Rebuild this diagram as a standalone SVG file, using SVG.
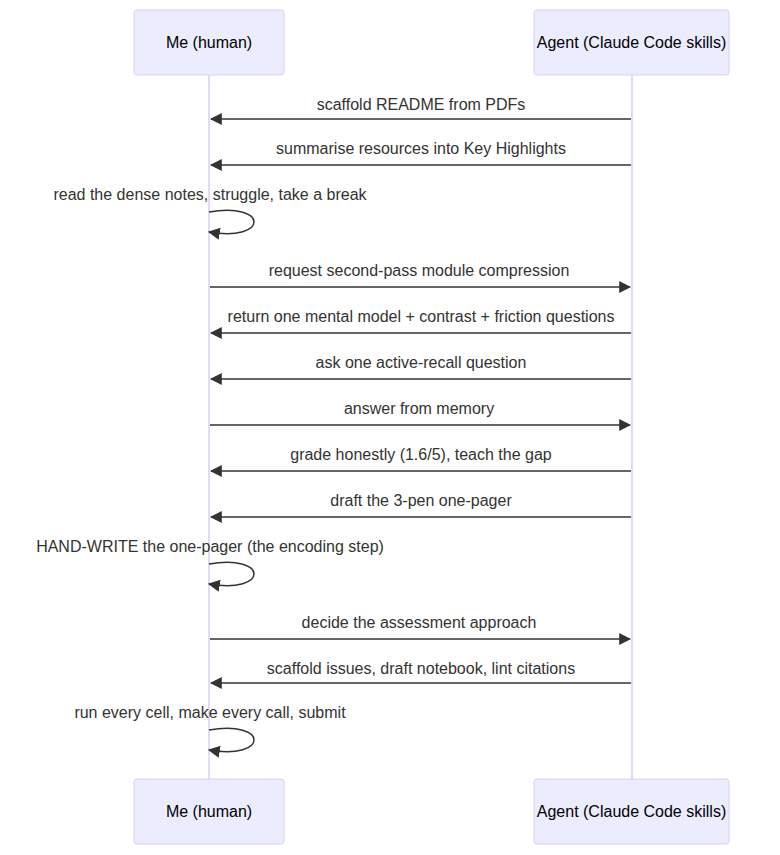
<svg xmlns="http://www.w3.org/2000/svg" width="780" height="855" viewBox="0 0 780 855">
<style>
.actor{fill:#ECECFF;stroke:#DACEF3;stroke-width:1}
.atext{font-family:"Liberation Sans",Arial,sans-serif;font-size:16px;fill:#000;text-anchor:middle}
.life{stroke:#DACEF3;stroke-width:1.5}
.msg{stroke:#333;stroke-width:1.5;fill:none}
.mtext{font-family:"Liberation Sans",Arial,sans-serif;font-size:16px;fill:#333;text-anchor:middle}
</style>
<defs>
<marker id="ah" viewBox="0 0 10 10" refX="9" refY="5" markerWidth="12" markerHeight="12" markerUnits="userSpaceOnUse" orient="auto">
<path d="M 0 0 L 10 5 L 0 10 z" fill="#333"/>
</marker>
</defs>
<rect width="780" height="855" fill="#fff"/>
<g id="lifelines">
<line class="life" x1="209" y1="75" x2="209" y2="779"/>
<line class="life" x1="632" y1="75" x2="632" y2="779"/>
</g>
<g id="me-top"><rect class="actor" x="134" y="10" width="150" height="65" rx="3"/><text class="atext" x="209" y="48">Me (human)</text></g>
<g id="agent-top"><rect class="actor" x="534" y="10" width="195" height="65" rx="3"/><text class="atext" x="631.5" y="48">Agent (Claude Code skills)</text></g>
<g id="me-bottom"><rect class="actor" x="134" y="779" width="150" height="65" rx="3"/><text class="atext" x="209" y="817">Me (human)</text></g>
<g id="agent-bottom"><rect class="actor" x="534" y="779" width="195" height="65" rx="3"/><text class="atext" x="631.5" y="817">Agent (Claude Code skills)</text></g>
<g id="connectors">
<line class="msg" x1="631" y1="119" x2="211" y2="119" marker-end="url(#ah)"/>
<line class="msg" x1="631" y1="165" x2="211" y2="165" marker-end="url(#ah)"/>
<path class="msg" d="M 209,212 C 269,202 269,242 209,232" marker-end="url(#ah)"/>
<line class="msg" x1="210" y1="287" x2="630" y2="287" marker-end="url(#ah)"/>
<line class="msg" x1="631" y1="333" x2="211" y2="333" marker-end="url(#ah)"/>
<line class="msg" x1="631" y1="379" x2="211" y2="379" marker-end="url(#ah)"/>
<line class="msg" x1="210" y1="425" x2="630" y2="425" marker-end="url(#ah)"/>
<line class="msg" x1="631" y1="471" x2="211" y2="471" marker-end="url(#ah)"/>
<line class="msg" x1="631" y1="517" x2="211" y2="517" marker-end="url(#ah)"/>
<path class="msg" d="M 209,564 C 269,554 269,594 209,584" marker-end="url(#ah)"/>
<line class="msg" x1="210" y1="639" x2="630" y2="639" marker-end="url(#ah)"/>
<line class="msg" x1="631" y1="683" x2="211" y2="683" marker-end="url(#ah)"/>
<path class="msg" d="M 209,730 C 269,720 269,760 209,750" marker-end="url(#ah)"/>
</g>
<g id="labels">
<text class="mtext" x="421" y="110">scaffold README from PDFs</text>
<text class="mtext" x="421" y="154">summarise resources into Key Highlights</text>
<text class="mtext" x="210" y="200">read the dense notes, struggle, take a break</text>
<text class="mtext" x="419" y="276">request second-pass module compression</text>
<text class="mtext" x="421" y="322">return one mental model + contrast + friction questions</text>
<text class="mtext" x="421" y="368">ask one active-recall question</text>
<text class="mtext" x="419" y="414">answer from memory</text>
<text class="mtext" x="421" y="460">grade honestly (1.6/5), teach the gap</text>
<text class="mtext" x="421" y="506">draft the 3-pen one-pager</text>
<text class="mtext" x="210" y="552">HAND-WRITE the one-pager (the encoding step)</text>
<text class="mtext" x="419" y="628">decide the assessment approach</text>
<text class="mtext" x="421" y="674">scaffold issues, draft notebook, lint citations</text>
<text class="mtext" x="210" y="718">run every cell, make every call, submit</text>
</g>
</svg>
